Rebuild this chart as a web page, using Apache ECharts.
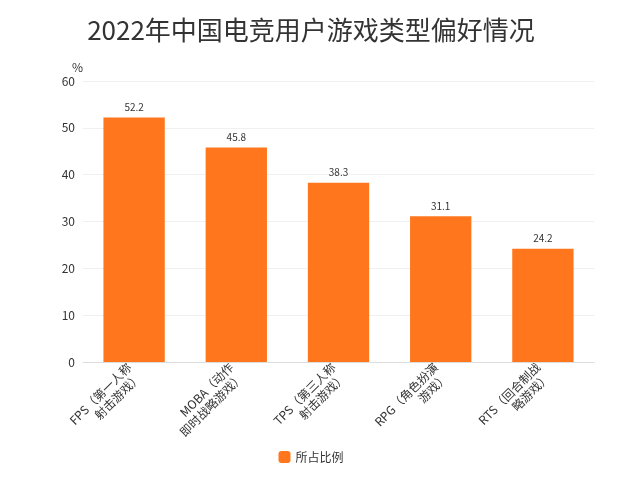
<!DOCTYPE html>
<html>
<head>
<meta charset="utf-8">
<script src="https://cdn.jsdelivr.net/npm/echarts@6/dist/echarts.min.js"></script>
<style>body{margin:0}#main{width:622px;height:480px}</style>
</head>
<body>
<div id="main"></div>
<script>
//chart data
var categories = ["FPS（第一人称\n射击游戏）", "MOBA（动作\n即时战略游戏）", "TPS（第三人称\n射击游戏）", "RPG（角色扮演\n游戏）", "RTS（回合制战\n略游戏）"];
var shares = [52.2, 45.8, 38.3, 31.1, 24.2];
var yTicks = [0, 10, 20, 30, 40, 50, 60];

var myChart = echarts.init(document.getElementById("main"));
var option = {
  textStyle: { fontFamily: "Noto Sans CJK SC" },
  title: {
    text: "2022年中国电竞用户游戏类型偏好情况",
    left: "center",
    top: 12,
    textStyle: { fontSize: 26, fontWeight: "normal", color: "#333" },
  },
  legend: {
    bottom: 12,
    itemWidth: 12,
    itemHeight: 12,
    textStyle: { color: "#333", fontSize: 12 },
  },
  grid: { left: 83, right: 28, top: 81, bottom: 118 },
  xAxis: {
    type: "category",
    data: categories,
    axisTick: { show: false },
    axisLine: { lineStyle: { color: "#ddd" } },
    axisLabel: { rotate: 45, color: "#333", fontSize: 12, interval: 0, lineHeight: 14 },
  },
  yAxis: {
    type: "value",
    name: "%",
    nameGap: 8,
    nameTextStyle: { color: "#333", align: "right", padding: [0, 0, 0, 0] },
    min: yTicks[0],
    max: yTicks[yTicks.length - 1],
    interval: 10,
    axisLabel: { color: "#333", fontSize: 12 },
    splitLine: { lineStyle: { color: "#f0f0f0" } },
  },
  series: [
    {
      name: "所占比例",
      type: "bar",
      data: shares,
      barWidth: "60%",
      itemStyle: { color: "#FF761C" },
      label: { show: true, position: "top", color: "#333", fontSize: 10 },
    },
  ],
};
myChart.setOption(option);
</script>
</body>
</html>
